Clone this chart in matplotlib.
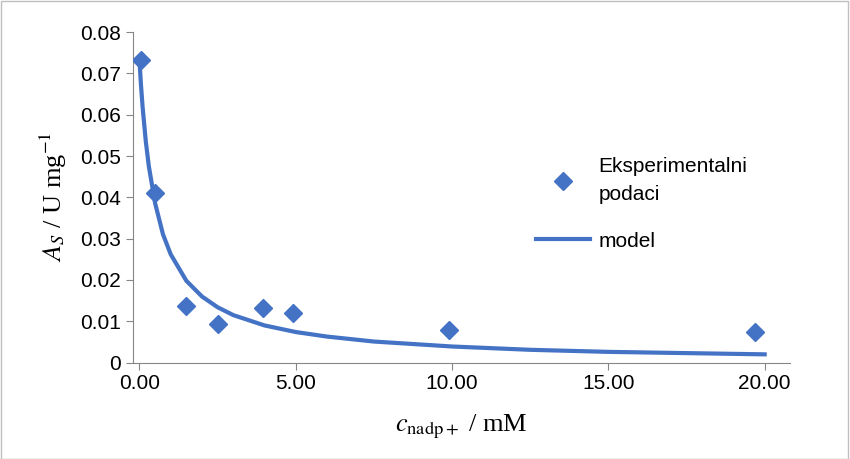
import matplotlib
matplotlib.use("Agg")
import matplotlib.pyplot as plt
from matplotlib.lines import Line2D

plt.rcParams["mathtext.fontset"] = "stix"

# experimental data
c_exp = [0.05, 0.5, 1.5, 2.5, 3.95, 4.9, 9.9, 19.7]
a_exp = [0.0732, 0.0410, 0.0138, 0.0093, 0.0131, 0.0120, 0.0078, 0.0074]

# model curve
c_mod = [0.0, 0.05, 0.1, 0.2, 0.3, 0.5, 0.75, 1.0, 1.5, 2.0, 2.5, 3.0, 4.0, 5.0, 6.0, 7.5, 10.0, 12.5, 15.0, 17.5, 20.0]
a_mod = [0.0730, 0.0670, 0.0619, 0.0537, 0.0475, 0.0386, 0.0311, 0.0262, 0.0198, 0.0160, 0.0134, 0.0115, 0.0090, 0.0074, 0.0063, 0.0051, 0.0039, 0.0031, 0.0026, 0.0023, 0.0020]

blue = "#4472C4"
fig = plt.figure(figsize=(8.5, 4.59), dpi=100)
ax = fig.add_axes([0.156, 0.21, 0.773, 0.72])
ax.plot(c_mod, a_mod, color=blue, lw=3, zorder=2)
ax.plot(c_exp, a_exp, ls="none", marker="D", ms=9, color=blue, zorder=3)

ax.set_xlim(-0.22, 20.8)
ax.set_ylim(0, 0.08)
ax.set_xticks([0, 5, 10, 15, 20])
ax.set_xticklabels(["0.00", "5.00", "10.00", "15.00", "20.00"])
ax.set_yticks([0, 0.01, 0.02, 0.03, 0.04, 0.05, 0.06, 0.07, 0.08])
ax.set_yticklabels(["0", "0.01", "0.02", "0.03", "0.04", "0.05", "0.06", "0.07", "0.08"])
for s in ["top", "right"]:
    ax.spines[s].set_visible(False)
for s in ["left", "bottom"]:
    ax.spines[s].set_color("#868686")
ax.tick_params(labelsize=15, color="#868686", direction="out", length=5,
               labelfontfamily="Liberation Sans")

ax.set_xlabel(r"$c_{\mathrm{nadp+}}$ / mM", fontsize=19, family="Liberation Serif", labelpad=14)
ax.set_ylabel(r"$A_S$ / U mg$^{-1}$", fontsize=19, family="Liberation Serif", labelpad=8)

h = [Line2D([], [], ls="none", marker="D", ms=9, color=blue),
     Line2D([], [], color=blue, lw=3)]
leg = ax.legend(h, ["Eksperimentalni\npodaci", "model"], loc="center left",
                bbox_to_anchor=(0.585, 0.48), frameon=False, labelspacing=1.3,
                prop={"family": "Liberation Sans", "size": 15}, handlelength=2.6,
                handletextpad=0.4)
for t in leg.get_texts():
    t.set_linespacing(1.6)

fig.add_artist(plt.Rectangle((0.001, 0.001), 0.997, 0.997, transform=fig.transFigure,
                             fill=False, ec="#BFBFBF", lw=1))
fig.savefig("out.png", dpi=100)
